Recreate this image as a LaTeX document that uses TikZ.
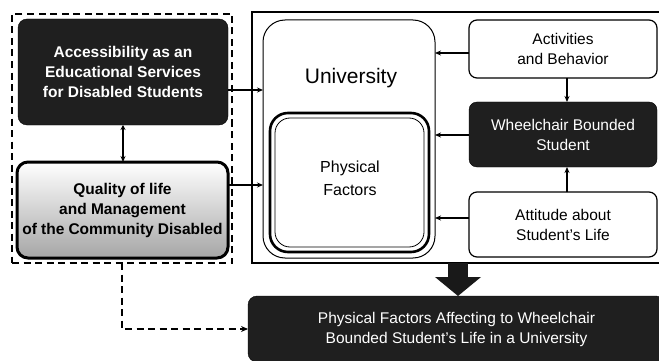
\documentclass[tikz,border=0pt]{standalone}
\usepackage{fontspec}
\setmainfont{Liberation Sans}
\usetikzlibrary{arrows.meta}
\begin{document}
\begin{tikzpicture}[x=1pt,y=-1pt,
  every node/.style={inner sep=0pt,outer sep=0pt,align=center,
    font=\fontsize{15.5}{20}\selectfont},
  darkbox/.style={fill=black!88,draw=black,text=white,rounded corners=9pt},
  lightbox/.style={draw=black,line width=1.2pt,fill=white,rounded corners=8pt},
  dashline/.style={dashed,dash pattern=on 7pt off 4.5pt,line width=2.1pt},
  arr/.style={line width=1.3pt,-{Stealth[length=6pt,width=5pt]}},
  dblarr/.style={line width=1.3pt,{Stealth[length=5pt,width=5pt]}-{Stealth[length=6pt,width=5pt]}}]
\useasboundingbox (0,0) rectangle (659,361);

% left group: dashed enclosure with the two input blocks
\node[draw,dashline,minimum width=220pt,minimum height=249pt] (group) at (122,138.5) {};
\node[darkbox,font=\bfseries\fontsize{15.5}{20}\selectfont,
  minimum width=210pt,minimum height=106pt] (access) at (123,72)
  {Accessibility as an\\Educational Services\\for Disabled Students};
\node[draw,line width=3pt,rounded corners=11pt,top color=white,bottom color=black!35,
  font=\bfseries\fontsize{15.5}{20}\selectfont,
  minimum width=211pt,minimum height=96pt] (quality) at (122.5,210)
  {\raisebox{10pt}{\parbox{200pt}{\centering Quality of life\\and Management\\of the Community Disabled}}};

% right group: solid frame
\node[draw,line width=2pt,minimum width=410pt,minimum height=251pt] (frame) at (457,137.5) {};
\node[draw,line width=1pt,rounded corners=22pt,minimum width=172pt,minimum height=238pt] (univ) at (349,139) {};
\node[font=\fontsize{21}{24}\selectfont] (univlabel) at (351,78) {University};
\node[draw,line width=2.6pt,rounded corners=18pt,minimum width=159pt,minimum height=139pt] (phys) at (349.5,182.5) {};
\node[draw,line width=0.8pt,rounded corners=15pt,minimum width=149pt,minimum height=129pt] (physin) at (349.5,182.5) {};
\node[font=\fontsize{16}{23}\selectfont] (physlabel) at (350,178) {Physical\\Factors};

\node[lightbox,minimum width=188pt,minimum height=58pt] (activ) at (563,49) {Activities\\and Behavior};
\node[darkbox,rounded corners=8pt,minimum width=188pt,minimum height=65pt] (wheel) at (563,134.5) {Wheelchair Bounded\\Student};
\node[lightbox,minimum width=188pt,minimum height=65pt] (attit) at (563,224.5) {Attitude about\\Student's Life};

% outcome block
\node[darkbox,minimum width=417pt,minimum height=66pt] (result) at (456.5,329)
  {Physical Factors Affecting to Wheelchair\\Bounded Student's Life in a University};

% connectors
\draw[dblarr] (access.south -| 123,0) -- (quality.north -| 123,0);
\draw[arr] (access.east |- 0,90) -- (univ.west |- 0,90);
\draw[arr] (quality.east |- 0,185) -- (univ.west |- 0,185);
\draw[arr] (activ.west |- 0,53) -- (univ.east |- 0,53);
\draw[arr] (wheel.west |- 0,135) -- (univ.east |- 0,135);
\draw[arr] (attit.west |- 0,218) -- (univ.east |- 0,218);
\draw[arr] (activ.south -| 567,0) -- (wheel.north -| 567,0);
\draw[arr] (attit.north -| 567,0) -- (wheel.south -| 567,0);
\draw[black!90,line width=20pt,-{Triangle[length=19pt,width=45pt]}]
  (frame.south -| 458,0) -- (result.north -| 458,0);
\draw[dashline,-{Stealth[length=7pt,width=6pt]}]
  (group.south) |- (result.west);
\end{tikzpicture}
\end{document}
